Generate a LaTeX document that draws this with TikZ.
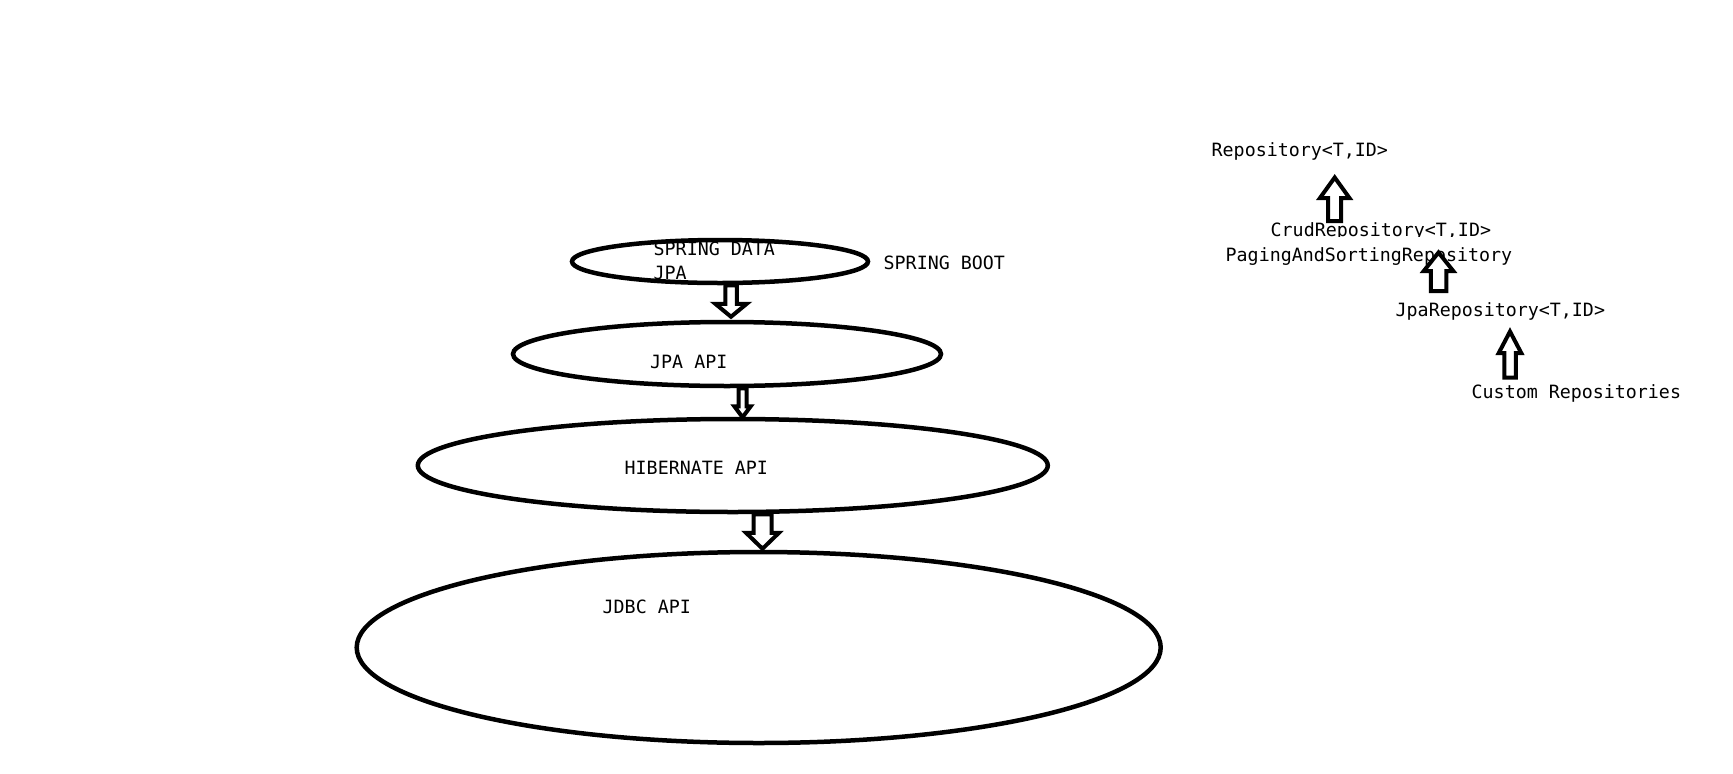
\documentclass[tikz,border=0pt]{standalone}
\usepackage{fontspec}
\setmonofont{DejaVu Sans Mono}
\usetikzlibrary{calc,shapes.geometric}
\newcommand\blockarr[5]{% #1 start, #2 tip, #3 half shaft, #4 half head, #5 signed head length
  \draw[blk] let \p1=(#1), \p2=(#2) in
    ({\x1-#3pt},\y1) -- ({\x1-#3pt},{\y2+(#5pt)}) -- ({\x1-#4pt},{\y2+(#5pt)}) --
    (\x1,\y2) -- ({\x1+#4pt},{\y2+(#5pt)}) -- ({\x1+#3pt},{\y2+(#5pt)}) --
    ({\x1+#3pt},\y1) -- cycle;}
\begin{document}
\begin{tikzpicture}[x=1pt,y=-1pt,
  layer/.style={draw, ellipse, line width=4.5pt, inner sep=0pt},
  lbl/.style={font=\fontsize{18.3}{24}\selectfont\ttfamily, inner sep=0pt, anchor=base west},
  blk/.style={draw, fill=white, line width=4pt, line join=miter, miter limit=10}]
\useasboundingbox[fill=white] (0,0) rectangle (1733,774);

% layers
\node[layer, minimum width=296pt, minimum height=43pt] (e1) at (720,261.5) {};
\node[layer, minimum width=428pt, minimum height=64pt] (e2) at (727,354) {};
\node[layer, minimum width=630pt, minimum height=93pt] (e3) at (732.8,465.5) {};
\node[layer, minimum width=804pt, minimum height=191pt] (e4) at (758.7,647.5) {};

\node[lbl, align=left, anchor=north west] (t1) at (653.5,241.5) {SPRING DATA\\JPA};
\node[lbl] (boot) at (883.5,269.3) {SPRING BOOT};
\node[lbl] (t2) at (650,368.3) {JPA API};
\node[lbl] (t3) at (624.5,474) {HIBERNATE API};
\node[lbl] (t4) at (602.5,613.3) {JDBC API};

% down block arrows
\coordinate (a1s) at ($(e1.south)+(11,0)$);
\coordinate (a1e) at ($(a1s |- e2.north)+(0,-3)$);
\coordinate (a2s) at ($(e2.south)+(15.5,0)$);
\coordinate (a2e) at ($(a2s |- e3.north)+(0,0.5)$);
\coordinate (a3s) at ($(e3.south)+(29.7,0)$);
\coordinate (a3e) at ($(a3s |- e4.north)+(0,-1)$);
\blockarr{a1s}{a1e}{5.75}{15.75}{13}
\blockarr{a2s}{a2e}{4}{8.25}{11}
\blockarr{a3s}{a3e}{9}{16.5}{16}

% repository hierarchy
\node[lbl] (repo) at (1211.5,156) {Repository<T,ID>};
\node[lbl] (crud) at (1270.5,236.7) {CrudRepository<T,ID>};
\node[lbl, fill=white, text height=24.5pt] (paging) at (1225.5,261.7) {PagingAndSortingRepository};
\node[lbl] (jpa) at (1395.5,316.7) {JpaRepository<T,ID>};
\node[lbl] (custom) at (1471.5,398) {Custom Repositories};

\coordinate (r1s) at (1334.7,221);
\coordinate (r1e) at (1334.7,177.5);
\coordinate (r2s) at (1438.5,291);
\coordinate (r2e) at (1438.5,252.5);
\coordinate (r3s) at (1510,377.5);
\coordinate (r3e) at (1510,331.5);
\blockarr{r1s}{r1e}{6.5}{14.75}{-20.5}
\blockarr{r2s}{r2e}{7.75}{14.75}{-18.5}
\blockarr{r3s}{r3e}{5.75}{11.25}{-21.5}
\end{tikzpicture}
\end{document}
